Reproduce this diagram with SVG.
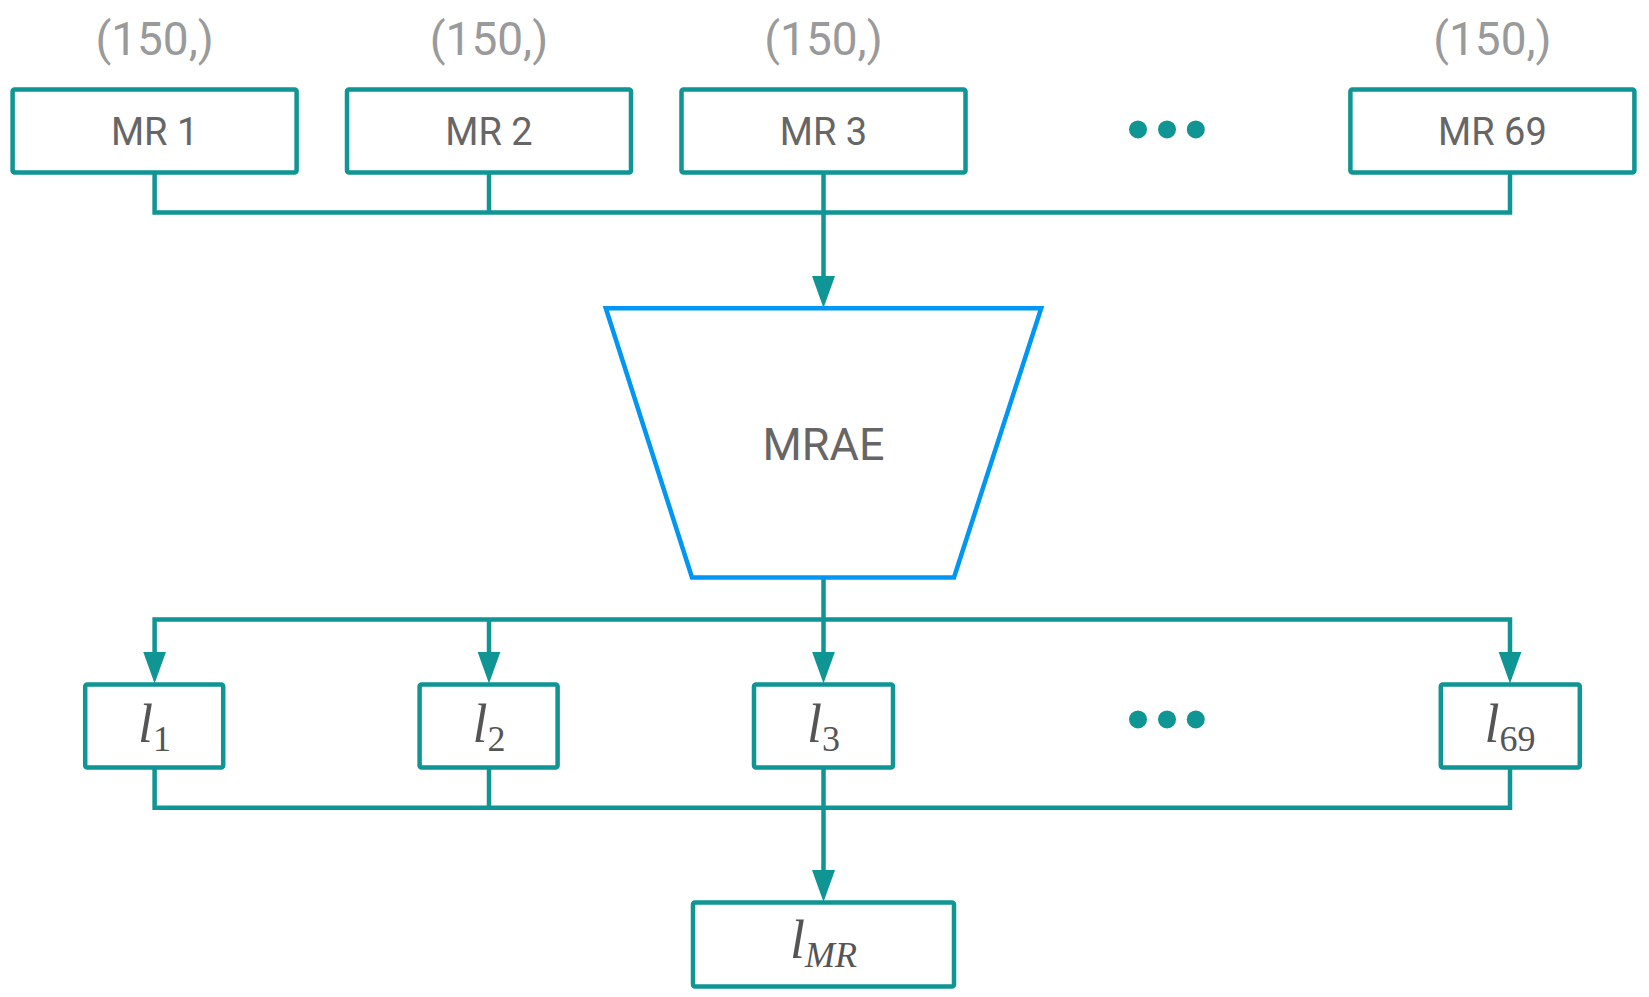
<svg xmlns="http://www.w3.org/2000/svg" width="1649" height="997" viewBox="0 0 1649 997">
<style>
.box{fill:#fff;stroke:#0E9594;stroke-width:4.5}
.conn{fill:none;stroke:#0E9594;stroke-width:4.5;stroke-linejoin:miter}
.lbl{font-family:Roboto,"Liberation Sans",sans-serif;font-size:38px;fill:#666;text-anchor:middle}
.shape{font-family:Roboto,"Liberation Sans",sans-serif;font-size:46px;fill:#9a9a9a;text-anchor:middle}
.math{font-family:"Liberation Serif","DejaVu Serif",serif;fill:#555;text-anchor:middle}
.l{font-style:italic;font-size:54px}
.sub{font-size:36px}
.dot{fill:#0E9594}
</style>
<defs>
<marker id="arr" markerUnits="userSpaceOnUse" markerWidth="32" markerHeight="24" refX="22" refY="12" orient="auto">
<path d="M0,0.5 L32,12 L0,23.5 z" fill="#0E9594"/>
</marker>
</defs>
<g id="shapes">
<text class="shape" x="154.6" y="55">(150,)</text>
<text class="shape" x="489" y="55">(150,)</text>
<text class="shape" x="823.5" y="55">(150,)</text>
<text class="shape" x="1492.4" y="55">(150,)</text>
</g>
<g id="connectors">
<path class="conn" d="M154.6,172.5 V212.4 H1510 V172.5"/>
<path class="conn" d="M489,172.5 V212.4"/>
<path class="conn" d="M823.5,172.5 V298" marker-end="url(#arr)"/>
<path class="conn" d="M823.5,577 V673.6" marker-end="url(#arr)"/>
<path class="conn" d="M823.5,619.5 H154.6 V673.6" marker-end="url(#arr)"/>
<path class="conn" d="M823.5,619.5 H1510 V673.6" marker-end="url(#arr)"/>
<path class="conn" d="M489,619.5 V673.6" marker-end="url(#arr)"/>
<path class="conn" d="M154.6,767.7 V807.7 H1510 V767.7"/>
<path class="conn" d="M489,767.7 V807.7"/>
<path class="conn" d="M823.5,767.7 V892" marker-end="url(#arr)"/>
</g>
<g id="mr1"><rect class="box" x="12.6" y="89.4" width="284" height="83" rx="2"/><text class="lbl" x="154.6" y="145">MR 1</text></g>
<g id="mr2"><rect class="box" x="347" y="89.4" width="284" height="83" rx="2"/><text class="lbl" x="489" y="145">MR 2</text></g>
<g id="mr3"><rect class="box" x="681.5" y="89.4" width="284" height="83" rx="2"/><text class="lbl" x="823.5" y="145">MR 3</text></g>
<g id="dots-top"><circle class="dot" cx="1138" cy="129.4" r="9"/><circle class="dot" cx="1167" cy="129.4" r="9"/><circle class="dot" cx="1195.8" cy="129.4" r="9"/></g>
<g id="mr69"><rect class="box" x="1350.4" y="89.4" width="284" height="83" rx="2"/><text class="lbl" x="1492.4" y="145">MR 69</text></g>
<g id="mrae">
<polygon points="605.8,308.2 1041.2,308.2 954,577.4 692,577.4" fill="#fff" stroke="#0096F3" stroke-width="4.5" stroke-linejoin="miter"/>
<text x="823.5" y="460" font-family="Roboto,'Liberation Sans',sans-serif" font-size="45" fill="#666" text-anchor="middle">MRAE</text>
</g>
<g id="l1"><rect class="box" x="85.2" y="684.6" width="138" height="83" rx="2"/><text class="math" x="154.6" y="742"><tspan class="l">l</tspan><tspan class="sub" dy="9">1</tspan></text></g>
<g id="l2"><rect class="box" x="419.6" y="684.6" width="138" height="83" rx="2"/><text class="math" x="489" y="742"><tspan class="l">l</tspan><tspan class="sub" dy="9">2</tspan></text></g>
<g id="l3"><rect class="box" x="754" y="684.6" width="139" height="83" rx="2"/><text class="math" x="823.5" y="742"><tspan class="l">l</tspan><tspan class="sub" dy="9">3</tspan></text></g>
<g id="dots-bottom"><circle class="dot" cx="1138" cy="719.4" r="9"/><circle class="dot" cx="1167" cy="719.4" r="9"/><circle class="dot" cx="1195.8" cy="719.4" r="9"/></g>
<g id="l69"><rect class="box" x="1440.8" y="684.6" width="139" height="83" rx="2"/><text class="math" x="1510" y="742"><tspan class="l">l</tspan><tspan class="sub" dy="9">69</tspan></text></g>
<g id="lmr"><rect class="box" x="693" y="902.4" width="261" height="84" rx="2"/><text class="math" x="823.5" y="958"><tspan class="l">l</tspan><tspan class="sub" font-style="italic" dy="9">MR</tspan></text></g>
</svg>
